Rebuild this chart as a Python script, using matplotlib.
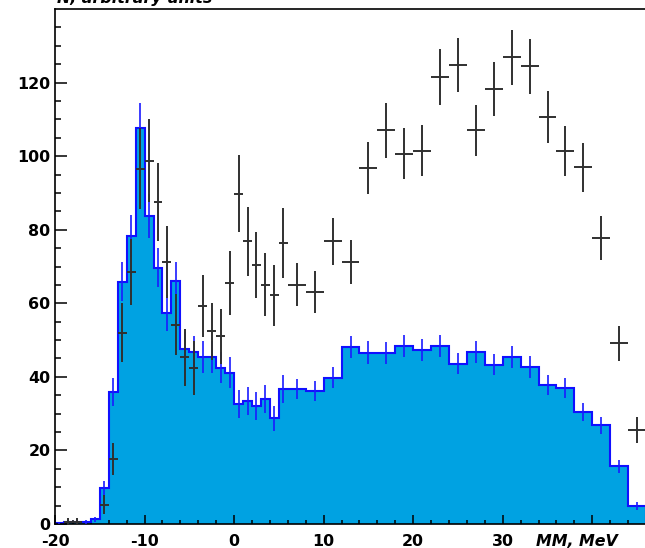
import numpy as np
import matplotlib
matplotlib.use("Agg")
import matplotlib.pyplot as plt

# bin edges: 1 MeV bins from -20 to 6, then 2 MeV bins up to 46
edges = np.concatenate([np.arange(-20, 6, 1), np.arange(6, 47, 2)])
centers = 0.5 * (edges[:-1] + edges[1:])
halfw = 0.5 * np.diff(edges)

# simulation (blue filled histogram)
sim_vals = [0.2, 0.6, 0.6, 0.6, 1.3, 9.7, 35.9, 65.8, 78.3, 107.6,
            83.7, 69.7, 57.3, 66.0, 47.7, 46.8, 45.4, 45.4, 42.5, 41.1,
            32.7, 33.5, 32.0, 34.1, 28.7, 36.7,
            36.7, 36.2, 39.8, 48.1, 46.6, 46.4, 48.4, 47.3, 48.4, 43.6,
            46.8, 43.3, 45.3, 42.7, 37.7, 37.0, 30.5, 26.9, 15.7, 4.9]
sim_errs = [0.3, 0.5, 0.5, 0.5, 0.7, 2.0, 3.9, 5.3, 5.8, 6.8,
            6.0, 5.4, 4.9, 5.3, 4.5, 4.4, 4.4, 4.4, 4.3, 4.2,
            3.8, 3.8, 3.8, 3.8, 3.4, 3.9,
            2.7, 2.7, 2.9, 3.1, 3.1, 3.0, 3.1, 3.0, 3.1, 2.9,
            3.0, 2.9, 3.0, 2.9, 2.7, 2.7, 2.5, 2.3, 1.8, 1.0]

# data (black crosses), 0 = empty bin
data_vals = [0, 0.5, 0.5, 0, 0, 5.3, 17.7, 52.0, 68.5, 96.6,
             98.8, 87.5, 71.2, 54.2, 45.3, 42.4, 59.2, 52.4, 51.0, 65.5,
             89.8, 76.9, 70.5, 65.1, 62.2, 76.4,
             65.1, 63.0, 76.8, 71.2, 96.7, 107.0, 100.7, 101.5, 121.6, 124.8,
             107.0, 118.3, 126.9, 124.4, 110.7, 101.4, 97.0, 77.7, 49.1, 25.5]
data_errs = [0, 1.0, 1.0, 0, 0, 2.7, 4.4, 8.0, 9.0, 11.1,
             11.3, 10.7, 9.7, 8.2, 7.7, 7.4, 8.5, 7.7, 7.4, 8.7,
             10.4, 9.4, 9.0, 8.5, 8.3, 9.4,
             5.8, 5.7, 6.3, 6.0, 7.1, 7.4, 6.9, 6.9, 7.6, 7.4,
             7.0, 7.4, 7.5, 7.5, 7.0, 6.7, 6.7, 6.0, 4.7, 3.5]

xticks = [-20, -10, 0, 10, 20, 30, 40]
xticklabels = ["-20", "-10", "0", "10", "20", "30", ""]
yticks = [0, 20, 40, 60, 80, 100, 120]

plt.rcParams["font.family"] = "DejaVu Sans"
plt.rcParams["font.weight"] = "bold"

fig = plt.figure(figsize=(6.45, 5.48), dpi=100)
ax = fig.add_axes([55 / 645, 1 - 524 / 548, 591 / 645, 515 / 548])

ax.stairs(sim_vals, edges, fill=True, color="#00a2e2", zorder=1)
ax.stairs(sim_vals, edges, color="#1010ff", linewidth=1.5, zorder=2)
ax.errorbar(centers, sim_vals, yerr=sim_errs, fmt="none", ecolor="#1a1aff",
            elinewidth=1.2, zorder=3)

dv = np.array(data_vals, dtype=float)
de = np.array(data_errs, dtype=float)
keep = dv > 0
ax.errorbar(centers[keep], dv[keep], yerr=de[keep], xerr=halfw[keep],
            fmt="none", ecolor="#303030", elinewidth=1.4, zorder=4)

ax.set_xlim(-20, 46)
ax.set_ylim(0, 140)
ax.set_xticks(xticks)
ax.set_xticklabels(xticklabels)
ax.set_xticks(np.arange(-20, 47, 2), minor=True)
ax.set_yticks(yticks)
ax.set_yticks(np.arange(0, 140, 5), minor=True)
ax.tick_params(axis="x", which="major", direction="in", length=6.5, width=1.1,
               pad=7, labelsize=11.4)
ax.tick_params(axis="x", which="minor", direction="in", length=3.1, width=1.1)
ax.tick_params(axis="y", which="major", direction="in", length=8.4, width=1.1,
               pad=3.3, labelsize=11.4)
ax.tick_params(axis="y", which="minor", direction="in", length=4.3, width=1.1)
for s in ax.spines.values():
    s.set_linewidth(1.2)
ax.spines["right"].set_visible(False)

fig.text(57 / 645, 1 - 2.7 / 548, "N, arbitrary units", fontsize=11.4,
         fontweight="bold", style="italic", va="baseline", ha="left")
fig.text(618 / 645, 1 - 545.7 / 548, "MM, MeV", fontsize=11.4,
         fontweight="bold", style="italic", va="baseline", ha="right")

fig.savefig("out.png", dpi=100)
